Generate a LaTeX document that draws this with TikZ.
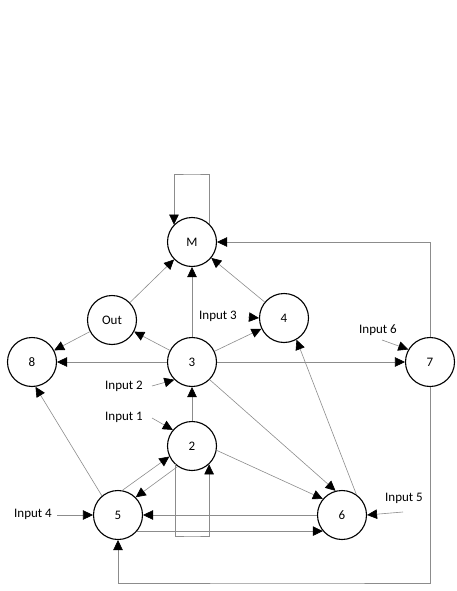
\documentclass[tikz,border=0pt]{standalone}
\usepackage{fontspec}
\setmainfont{Carlito}
\usetikzlibrary{arrows.meta}
\definecolor{linegray}{RGB}{140,140,140}
\begin{document}
\begin{tikzpicture}[x=1pt,y=-1pt,
  st/.style={circle,draw=black,line width=1.1pt,minimum size=49pt,inner sep=0pt,font=\fontsize{13}{15}\selectfont},
  conn/.style={draw=linegray,line width=0.6pt,-{Triangle[length=10pt,width=9.5pt,color=black,fill=black]}},
  lbl/.style={font=\fontsize{13}{15}\selectfont,inner sep=0pt}]
\useasboundingbox (0,0) rectangle (457,591);
% nodes
\node[st] (M) at (192,242) {M};
\node[st] (Out) at (112,320) {Out};
\node[st] (4) at (284,318) {4};
\node[st] (8) at (32,362) {8};
\node[st] (3) at (192,362) {3};
\node[st] (7) at (430,362) {7};
\node[st] (2) at (192,446) {2};
\node[st] (5) at (118,515) {5};
\node[st] (6) at (342,515) {6};
% input labels
\node[lbl] (i3) at (218,316) {Input 3};
\node[lbl] (i6) at (378,330) {Input 6};
\node[lbl] (i2) at (124,386) {Input 2};
\node[lbl] (i1) at (124,417) {Input 1};
\node[lbl] (i4) at (33,514) {Input 4};
\node[lbl] (i5) at (404,498) {Input 5};
\coordinate (i3s) at (248,317);
\coordinate (i6s) at (382,340);
\coordinate (i2s) at (152,386);
\coordinate (i1s) at (152,418);
\coordinate (i4s) at (57,515);
\coordinate (i5s) at (403,512);
% loop corners
\coordinate (Mloop) at (192,174);
\coordinate (loop2) at (192,536);
\coordinate (bot75) at (300,583);
% edges
\draw[conn] (M.47) |- (Mloop) -| (M.136);
\draw[conn] (7.north) |- (M.east);
\draw[conn] (Out) -- (M);
\draw[conn] (3) -- (M);
\draw[conn] (4) -- (M);
\draw[conn] (3) -- (Out);
\draw[conn] (3) -- (4);
\draw[conn] (3) -- (8);
\draw[conn] (3) -- (7);
\draw[conn] (Out) -- (8);
\draw[conn] (3.-45) -- (6.105);
\draw[conn] (2) -- (3);
\draw[conn] (2.-10) -- (6.140);
\draw[conn] (6.55) -- (4.-60);
\draw[conn] (5.130) -- (8.-82);
\draw[conn] (5.80) -- (2.205);
\draw[conn] (2.235) -- (5.45);
\draw[conn] (2.-133) |- (loop2) -| (2.-47);
\draw[conn] (6.west) -- (5.east);
\draw[conn] (5.-40) -- (6.-140);
\draw[conn] (7.south) |- (bot75) -| (5.south);
% inputs
\draw[conn] (i3s) -- (4.west);
\draw[conn] (i6s) -- (7.150);
\draw[conn] (i2s) -- (3.-135);
\draw[conn] (i1s) -- (2.140);
\draw[conn] (i4s) -- (5.west);
\draw[conn] (i5s) -- (6.east);
\end{tikzpicture}
\end{document}
